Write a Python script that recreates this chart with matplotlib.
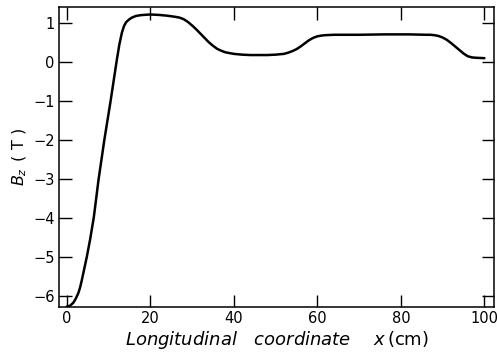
import matplotlib
matplotlib.use("Agg")
import matplotlib.pyplot as plt

x_cm = [0, 0.8, 1.6, 2.2, 2.8, 3.2, 3.6, 4.2, 4.8, 5.6, 6.5, 7.6, 9.0, 10.5, 12.0,
        12.6, 13.2, 13.7, 14.2, 14.9, 15.6, 16.5, 17.5, 18.5, 20, 22, 24, 26, 27, 28,
        29, 30, 31, 32, 33, 34, 35, 36, 37, 38, 39, 40, 42, 44, 46, 48, 50, 52, 53,
        54, 55, 56, 57, 58, 59, 60, 61, 62, 64, 70, 76, 82, 86, 87, 88, 89, 90, 91,
        92, 93, 94, 95, 96, 97, 98, 100]
bz_T = [-6.27, -6.25, -6.17, -6.06, -5.92, -5.78, -5.6, -5.3, -5.0, -4.55, -3.97,
        -3.03, -2.0, -1.0, 0.06, 0.45, 0.75, 0.92, 1.02, 1.09, 1.14, 1.18, 1.20, 1.21,
        1.22, 1.21, 1.19, 1.16, 1.14, 1.10, 1.03, 0.94, 0.84, 0.73, 0.62, 0.51, 0.42,
        0.34, 0.29, 0.25, 0.23, 0.21, 0.19, 0.18, 0.18, 0.18, 0.19, 0.21, 0.24, 0.28,
        0.33, 0.40, 0.48, 0.56, 0.62, 0.66, 0.68, 0.69, 0.70, 0.70, 0.71, 0.71, 0.70,
        0.70, 0.69, 0.67, 0.63, 0.57, 0.49, 0.40, 0.31, 0.22, 0.15, 0.12, 0.11, 0.10]
x_ticks = [0, 20, 40, 60, 80, 100]
y_ticks = [-6, -5, -4, -3, -2, -1, 0, 1]

fig = plt.figure(figsize=(4.97, 3.54), dpi=100)
ax = fig.add_axes([59/497, 1 - 307.3/354, (494 - 59)/497, (307.3 - 6.7)/354])
ax.plot(x_cm, bz_T, color="black", lw=1.8, solid_capstyle="round", solid_joinstyle="round")
ax.set_xlim(-1.85, 102.3)
ax.set_ylim(-6.29, 1.42)
ax.set_xticks(x_ticks)
ax.set_yticks(y_ticks)
ax.set_yticklabels([str(v).replace("-", "\u2212") for v in y_ticks])
ax.tick_params(direction="in", length=9, width=1.0, top=True, right=True,
               labelsize=10.5, pad=3)
for s in ax.spines.values():
    s.set_linewidth(1.1)
ax.set_xlabel(r"$\mathit{Longitudinal\ \ \ coordinate}\ \ \ \ \mathit{x}\,$(cm)",
              fontsize=13, labelpad=2)
ax.set_ylabel(r"$B_z\,$ ( T )", fontsize=11.5, labelpad=3)
fig.savefig("out.png", dpi=100)
